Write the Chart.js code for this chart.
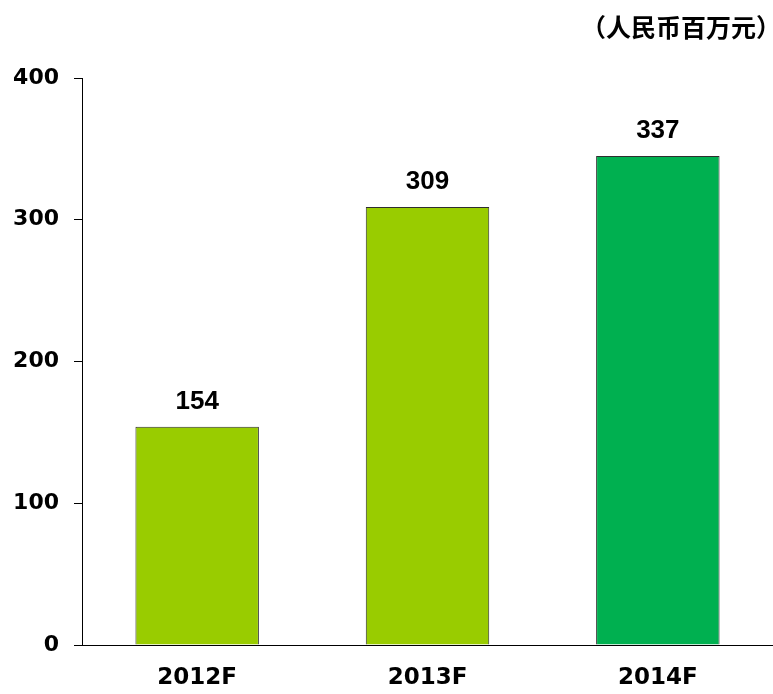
<!DOCTYPE html>
<html>
<head>
<meta charset="utf-8">
<script src="https://cdn.jsdelivr.net/npm/chart.js@4/dist/chart.umd.min.js"></script>
<style>
  html, body { margin: 0; padding: 0; background: #fff; }
  #wrap { width: 773px; height: 694px; position: relative; }
</style>
</head>
<body>
<div id="wrap"><canvas id="c" width="773" height="694"></canvas></div>
<script>
const categories = ["2012F", "2013F", "2014F"];
const barValues = [154, 309, 345];
const valueLabels = ["154", "309", "337"];
const barColors = ["#99CC00", "#99CC00", "#00B050"];
const yTicks = [0, 100, 200, 300, 400];
const unitLabel = "（人民币百万元）";

const labelPlugin = {
  id: "valueLabels",
  afterDatasetsDraw(chart) {
    const ctx = chart.ctx;
    const meta = chart.getDatasetMeta(0);
    ctx.save();
    ctx.fillStyle = "#000";
    ctx.font = "bold 26px 'Liberation Sans', Arial, sans-serif";
    ctx.textAlign = "center";
    ctx.textBaseline = "alphabetic";
    meta.data.forEach((bar, i) => {
      const p = bar.getProps(["x", "y"], true);
      ctx.fillText(valueLabels[i], p.x, p.y - 18);
    });
    ctx.font = "bold 25px 'Noto Sans CJK SC', sans-serif";
    ctx.textAlign = "right";
    ctx.textBaseline = "middle";
    ctx.fillText(unitLabel, 781, 27);
    ctx.restore();
  }
};

new Chart(document.getElementById("c"), {
  type: "bar",
  data: {
    labels: categories,
    datasets: [{
      data: barValues,
      backgroundColor: barColors,
      borderColor: "#2e2e2e",
      borderWidth: 1,
      barPercentage: 0.536,
      categoryPercentage: 1.0
    }]
  },
  options: {
    responsive: false,
    animation: false,
    devicePixelRatio: 1,
    layout: { padding: { top: 78, right: 0, bottom: 0, left: 0 } },
    plugins: { legend: { display: false }, tooltip: { enabled: false }, title: { display: false } },
    scales: {
      x: {
        grid: { display: false, drawTicks: false },
        border: { display: true, color: "#000", width: 1 },
        ticks: {
          color: "#000",
          padding: 19,
          font: { family: "'DejaVu Sans', sans-serif", size: 23, weight: "bold" }
        },
        afterFit(scale) { scale.height = 49; }
      },
      y: {
        min: 0,
        max: 400,
        afterBuildTicks(scale) { scale.ticks = yTicks.map(v => ({ value: v })); },
        grid: { drawOnChartArea: false, drawTicks: true, tickLength: 8, color: "#000" },
        border: { display: true, color: "#000", width: 1 },
        ticks: {
          color: "#000",
          padding: 15,
          font: { family: "'DejaVu Sans', sans-serif", size: 22, weight: "bold" }
        },
        afterFit(scale) { scale.width = 82; }
      }
    }
  },
  plugins: [labelPlugin]
});
</script>
</body>
</html>
